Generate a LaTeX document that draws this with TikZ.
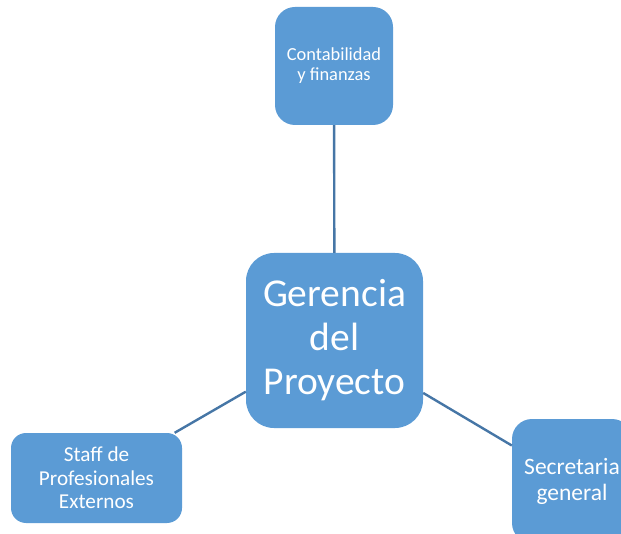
\documentclass[tikz,border=0pt]{standalone}
\usepackage{fontspec}
\setmainfont{Carlito}
\definecolor{boxblue}{HTML}{5B9BD5}
\definecolor{lineblue}{HTML}{4676A6}
\begin{document}
\begin{tikzpicture}[x=1pt,y=-1pt,
  box/.style={rectangle, fill=boxblue, text=white, align=center, inner sep=0pt},
  link/.style={draw=lineblue, line width=2.4pt}]
\useasboundingbox (0,0) rectangle (621,534);
\clip (0,0) rectangle (621,534);
\node[box, minimum width=118pt, minimum height=118pt, rounded corners=20pt,
  font=\fontsize{18.4}{20}\selectfont] (c) at (334,66) {Contabilidad\\y finanzas};
\node[box, minimum width=177pt, minimum height=175pt, rounded corners=28pt,
  font=\fontsize{39.5}{44}\selectfont] (g) at (334.5,340.5) {Gerencia\\del\\Proyecto};
\node[box, minimum width=171pt, minimum height=90pt, rounded corners=15pt,
  font=\fontsize{21.2}{23.5}\selectfont] (s) at (96.5,478) {Staff de\\Profesionales\\Externos};
\node[box, minimum width=120pt, minimum height=124pt, rounded corners=20pt,
  font=\fontsize{23.5}{26}\selectfont] (e) at (572,481) {Secretaria\\general};
\draw[link] (c) -- (g);
\draw[link] (s) -- (g);
\draw[link] (g) -- (e);
\end{tikzpicture}
\end{document}
